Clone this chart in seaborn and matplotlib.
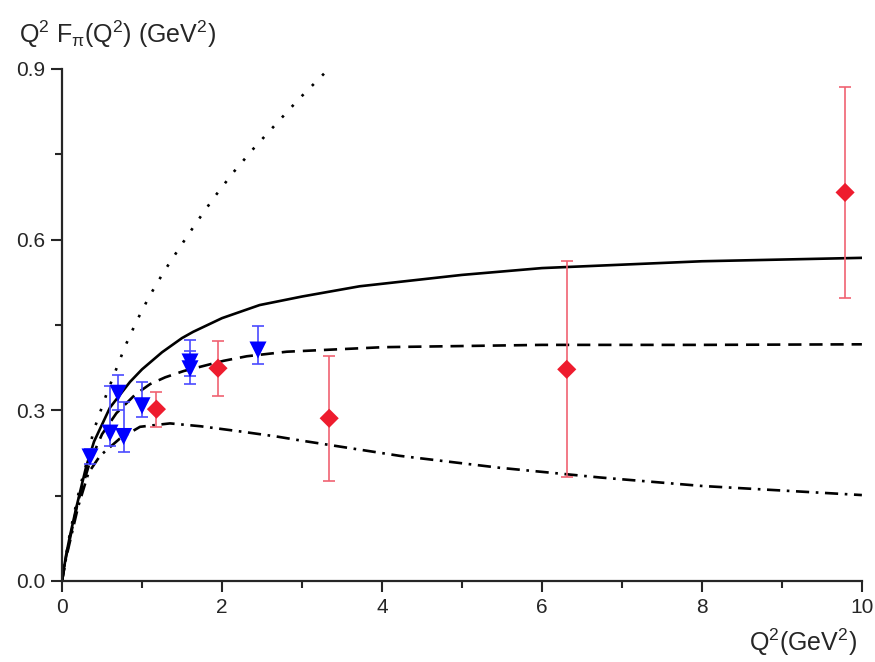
import numpy as np
import pandas as pd
import seaborn as sns
import matplotlib.pyplot as plt

# model curves, Q^2 F_pi(Q^2) vs Q^2
solid_x = [0, 0.05, 0.1, 0.18, 0.3, 0.4, 0.6, 0.85, 1.0, 1.25, 1.5, 1.64, 2.0, 2.47, 3.0, 3.72, 5.0, 6.0, 8.0, 10.0]
solid_y = [0, 0.045, 0.08, 0.13, 0.2, 0.245, 0.305, 0.35, 0.372, 0.402, 0.427, 0.438, 0.462, 0.485, 0.5, 0.518, 0.538, 0.55, 0.562, 0.568]

dashed_x = [0, 0.05, 0.1, 0.2, 0.35, 0.5, 0.68, 0.91, 1.1, 1.29, 1.52, 2.02, 2.31, 2.81, 4.02, 6.0, 8.0, 10.0]
dashed_y = [0, 0.042, 0.075, 0.14, 0.21, 0.258, 0.295, 0.327, 0.346, 0.358, 0.369, 0.387, 0.395, 0.403, 0.411, 0.415, 0.415, 0.416]

dashdot_x = [0, 0.05, 0.1, 0.2, 0.33, 0.475, 0.72, 0.975, 1.35, 1.73, 2.22, 2.68, 2.98, 4.22, 5.47, 6.72, 8.0, 10.0]
dashdot_y = [0, 0.04, 0.07, 0.13, 0.19, 0.22, 0.25, 0.271, 0.277, 0.272, 0.263, 0.254, 0.247, 0.22, 0.199, 0.182, 0.167, 0.151]

dotted_x = [0, 0.05, 0.1, 0.225, 0.29, 0.39, 0.5, 0.56, 0.79, 0.93, 1.09, 1.275, 1.47, 1.675, 1.9, 2.14, 2.4, 2.68, 2.96, 3.27, 3.4]
dotted_y = [0, 0.045, 0.085, 0.166, 0.198, 0.262, 0.306, 0.33, 0.413, 0.456, 0.5, 0.544, 0.586, 0.629, 0.674, 0.718, 0.761, 0.804, 0.847, 0.891, 0.91]

# data points (blue triangles)
blue_x = [0.35, 0.60, 0.70, 0.77, 1.00, 1.60, 1.60, 2.45]
blue_y = [0.218, 0.260, 0.330, 0.254, 0.308, 0.385, 0.373, 0.406]
blue_top = [0.232, 0.343, 0.362, 0.315, 0.350, 0.424, 0.405, 0.448]
blue_bot = [0.205, 0.238, 0.300, 0.227, 0.288, 0.360, 0.346, 0.381]

# data points (red diamonds)
red_x = [1.18, 1.95, 3.34, 6.31, 9.79]
red_y = [0.302, 0.374, 0.286, 0.372, 0.683]
red_err = [0.031, 0.048, 0.11, 0.19, 0.186]

sns.set_style("ticks")
plt.rcParams['font.family'] = ['Liberation Sans', 'DejaVu Sans']
plt.rcParams['mathtext.default'] = 'regular'

fig = plt.figure(figsize=(8.75, 6.62), dpi=100)
ax = fig.add_axes([0.0709, 0.1224, 0.9141, 0.7734])

curves = [
    (solid_x, solid_y, '-'),
    (dashed_x, dashed_y, (0, (5, 3))),
    (dashdot_x, dashdot_y, (0, (5, 2.5, 1, 2.5))),
    (dotted_x, dotted_y, (0, (1, 4.5))),
]
for cx, cy, ls in curves:
    sns.lineplot(x=cx, y=cy, ax=ax, color='black', lw=1.9, linestyle=ls,
                 sort=False, estimator=None, legend=False)

bx = np.array(blue_x)
by = np.array(blue_y)
blue_err = [by - np.array(blue_bot), np.array(blue_top) - by]
ax.errorbar(bx, by, yerr=blue_err, fmt='none', ecolor='#4a4aff',
            elinewidth=1.2, capsize=4, capthick=1.2, zorder=3)
ax.errorbar(red_x, red_y, yerr=red_err, fmt='none', ecolor='#f06272',
            elinewidth=1.2, capsize=4.5, capthick=1.2, zorder=3)

blue_df = pd.DataFrame({"q2": blue_x, "f": blue_y})
red_df = pd.DataFrame({"q2": red_x, "f": red_y})
sns.scatterplot(data=blue_df, x="q2", y="f", ax=ax, marker='v', s=150,
                color='#0000ff', edgecolor='none', zorder=4)
sns.scatterplot(data=red_df, x="q2", y="f", ax=ax, marker='D', s=95,
                color='#ee1c2e', edgecolor='none', zorder=4)

ax.set_xlim(0, 10)
ax.set_ylim(0, 0.9)
ax.set_xticks([0, 2, 4, 6, 8, 10])
ax.set_xticks([1, 3, 5, 7, 9], minor=True)
ax.set_yticks([0.0, 0.3, 0.6, 0.9])
ax.set_yticks([0.15, 0.45, 0.75], minor=True)
ax.set_yticklabels(['0.0', '0.3', '0.6', '0.9'])
ax.tick_params(which='major', length=8, width=1.5, labelsize=15, direction='out', pad=4)
ax.tick_params(which='minor', length=5, width=1.5, direction='out')
ax.set_xlabel('')
ax.set_ylabel('')
for side in ['top', 'right']:
    ax.spines[side].set_visible(False)
for side in ['left', 'bottom']:
    ax.spines[side].set_linewidth(1.6)

fig.text(0.022, 0.935, r'Q$^2$ F$_\pi$(Q$^2$) (GeV$^2$)', fontsize=18, va='baseline')
fig.text(0.98, 0.006, r'Q$^2$(GeV$^2$)', fontsize=18, ha='right', va='bottom')

fig.savefig('out.png', dpi=100)
